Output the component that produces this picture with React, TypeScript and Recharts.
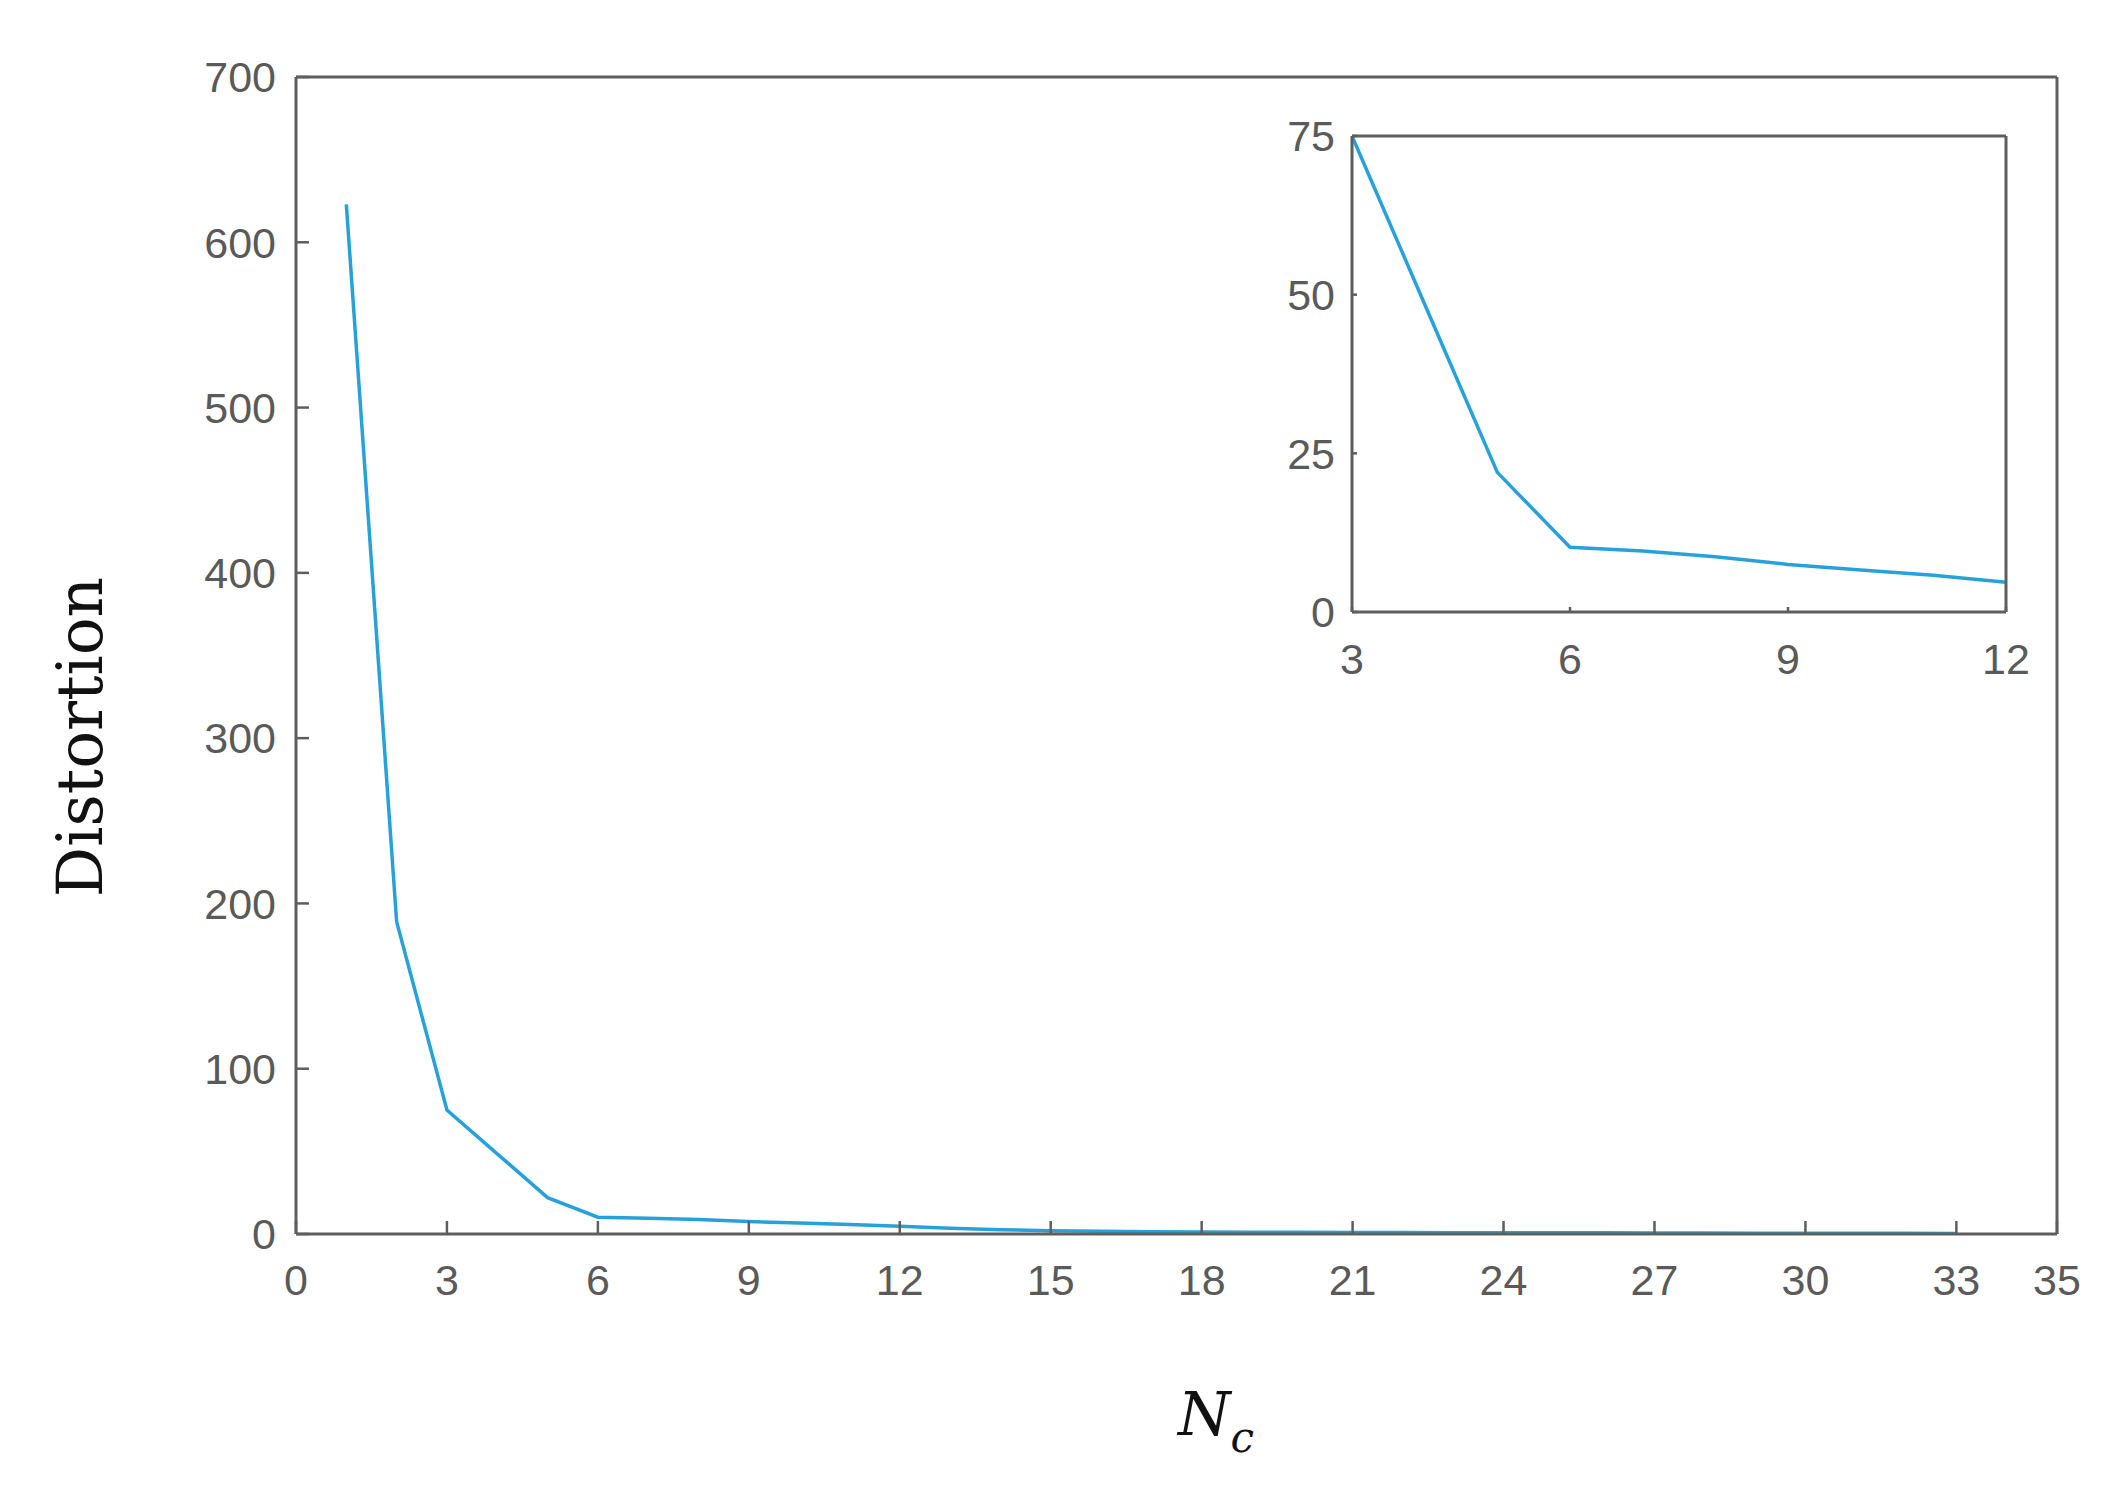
import { Line, LineChart, XAxis, YAxis } from 'recharts';

// N_c values and distortion
const nc = [1, 2, 3, 4, 5, 6, 7, 8, 9, 10, 11, 12, 13, 14, 15, 16, 17, 18, 19, 20, 21, 22, 23, 24, 25, 26, 27, 28, 29, 30, 31, 32, 33];
const distortion = [623, 189, 75, 48.5, 22, 10.2, 9.6, 8.7, 7.5, 6.6, 5.8, 4.7, 3.5, 2.6, 1.9, 1.6, 1.4, 1.2, 1.1, 1.0, 0.9, 0.85, 0.8, 0.8, 0.7, 0.7, 0.6, 0.6, 0.5, 0.5, 0.4, 0.4, 0.3];

const mainXTicks = [0, 3, 6, 9, 12, 15, 18, 21, 24, 27, 30, 33, 35];
const mainYTicks = [0, 100, 200, 300, 400, 500, 600, 700];
const insetXTicks = [3, 6, 9, 12];
const insetYTicks = [0, 25, 50, 75];

const rows = nc.map((n, i) => ({ nc: n, d: distortion[i] }));
const insetRows = rows.filter((r) => r.nc >= 3 && r.nc <= 12);

const axisColor = '#5e5e5e';
const labelColor = '#5a5a5a';
const lineColor = '#27a1db';
const sans = '"Liberation Sans", Arial, sans-serif';
const serif = '"DejaVu Serif", serif';

const axisLine = { stroke: axisColor, strokeWidth: 3 };
const tickLine = { stroke: axisColor, strokeWidth: 2.5 };
const tickText = { fill: labelColor, fontSize: 43, fontFamily: sans };

export default function App() {
  return (
    <div style={{ position: 'relative', width: 2100, height: 1460, background: '#fff' }}>
      <LineChart width={2100} height={1460} data={rows} margin={{ top: 68, right: 50, bottom: 154, left: 188 }}>
        <XAxis
          xAxisId="b"
          dataKey="nc"
          type="number"
          domain={[0, 35]}
          allowDataOverflow
          ticks={mainXTicks}
          interval={0}
          height={80}
          axisLine={axisLine}
          tickLine={tickLine}
          tickSize={-13}
          tickMargin={43}
          tick={tickText}
        />
        <XAxis
          xAxisId="t"
          dataKey="nc"
          type="number"
          orientation="top"
          domain={[0, 35]}
          allowDataOverflow
          ticks={mainXTicks}
          interval={0}
          height={1}
          axisLine={axisLine}
          tickLine={tickLine}
          tickSize={-13}
          tick={false}
        />
        <YAxis
          yAxisId="l"
          type="number"
          domain={[0, 700]}
          allowDataOverflow
          ticks={mainYTicks}
          interval={0}
          width={100}
          axisLine={axisLine}
          tickLine={tickLine}
          tickSize={-13}
          tickMargin={33}
          tick={tickText}
        />
        <YAxis
          yAxisId="r"
          type="number"
          orientation="right"
          domain={[0, 700]}
          allowDataOverflow
          ticks={mainYTicks}
          interval={0}
          width={1}
          axisLine={axisLine}
          tickLine={tickLine}
          tickSize={-13}
          tick={false}
        />
        <Line xAxisId="b" yAxisId="l" type="linear" dataKey="d" stroke={lineColor} strokeWidth={3.5} dot={false} isAnimationActive={false} />
      </LineChart>

      <div style={{ position: 'absolute', left: 1244, top: 100 }}>
        <LineChart width={800} height={580} data={insetRows} margin={{ top: 27, right: 45, bottom: 6, left: 40 }}>
          <XAxis
            xAxisId="b"
            dataKey="nc"
            type="number"
            domain={[3, 12]}
            allowDataOverflow
            ticks={insetXTicks}
            interval={0}
            height={70}
            axisLine={axisLine}
            tickLine={tickLine}
            tickSize={-5}
            tickMargin={36}
            tick={tickText}
          />
          <XAxis
            xAxisId="t"
            dataKey="nc"
            type="number"
            orientation="top"
            domain={[3, 12]}
            allowDataOverflow
            ticks={insetXTicks}
            interval={0}
            height={1}
            axisLine={axisLine}
            tickLine={tickLine}
            tickSize={-5}
            tick={false}
          />
          <YAxis
            yAxisId="l"
            type="number"
            domain={[0, 75]}
            allowDataOverflow
            ticks={insetYTicks}
            interval={0}
            width={60}
            axisLine={axisLine}
            tickLine={tickLine}
            tickSize={-5}
            tickMargin={22}
            tick={tickText}
          />
          <YAxis
            yAxisId="r"
            type="number"
            orientation="right"
            domain={[0, 75]}
            allowDataOverflow
            ticks={insetYTicks}
            interval={0}
            width={1}
            axisLine={axisLine}
            tickLine={tickLine}
            tickSize={-5}
            tick={false}
          />
          <Line xAxisId="b" yAxisId="l" type="linear" dataKey="d" stroke={lineColor} strokeWidth={3.5} dot={false} isAnimationActive={false} />
        </LineChart>
      </div>

      <svg width={2100} height={1460} style={{ position: 'absolute', left: 0, top: 0, pointerEvents: 'none' }}>
        <text transform="translate(94,729) rotate(-90)" textAnchor="middle" fontFamily={serif} fontSize={63} fill="#111">
          Distortion
        </text>
        <text x={1170} y={1427} fontFamily={serif} fontStyle="italic" fontSize={60} fill="#111">
          N
          <tspan fontSize={42} dy={17}>c</tspan>
        </text>
      </svg>
    </div>
  );
}
